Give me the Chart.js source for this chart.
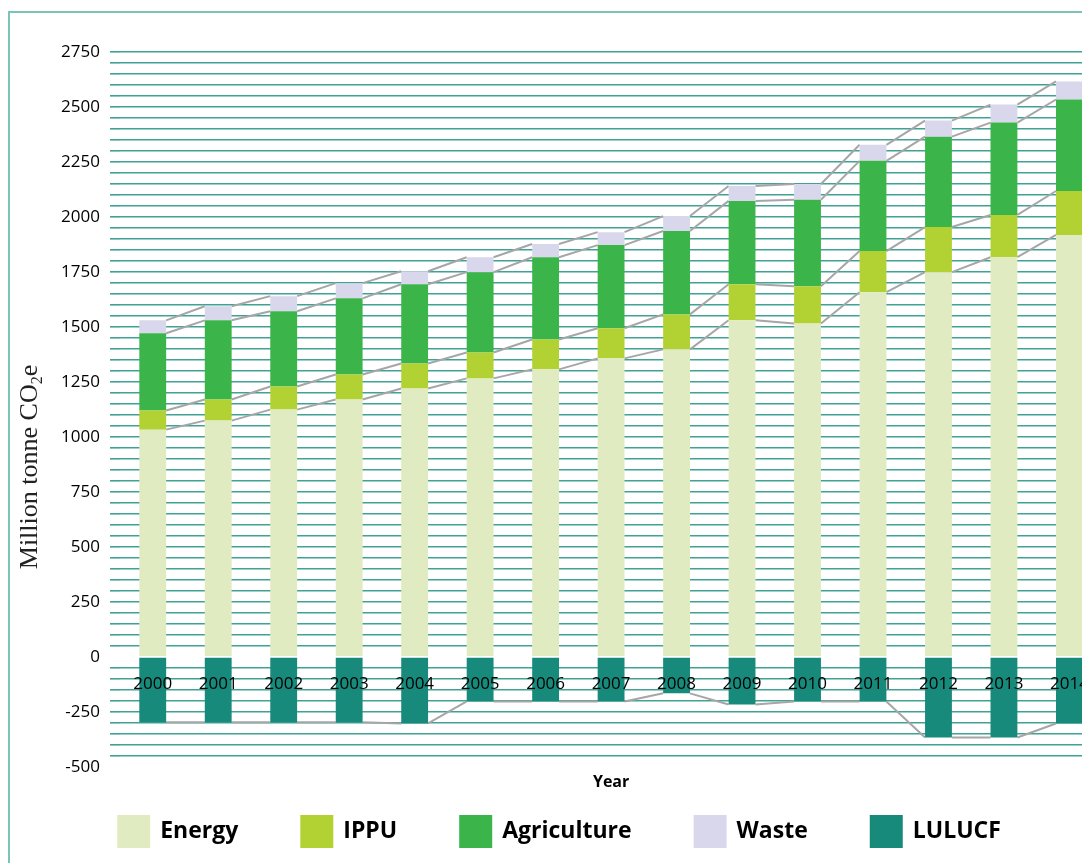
<!DOCTYPE html>
<html>
<head>
<meta charset="utf-8">
<script src="https://cdn.jsdelivr.net/npm/chart.js@4.4.0/dist/chart.umd.min.js"></script>
<style>
  html, body { margin: 0; padding: 0; background: #fff; overflow: hidden; }
  #wrap { position: absolute; left: 0; top: 0; width: 1106px; height: 863px; }
  #frame { position: absolute; left: 8px; top: 11px; width: 1200px; height: 900px;
           border-left: 2px solid #7cc4b8; border-top: 2px solid #7cc4b8; pointer-events: none; }
</style>
</head>
<body>
<div id="wrap">
  <canvas id="myChart" width="1106" height="863"></canvas>
</div>
<div id="frame"></div>
<script>
// datos (millones de toneladas CO2e)
const years = ['2000','2001','2002','2003','2004','2005','2006','2007','2008','2009','2010','2011','2012','2013','2014'];
const energy = [1033, 1074, 1124, 1170, 1220, 1266, 1307, 1357, 1398, 1530, 1516, 1658, 1749, 1817, 1918];
const ippu = [87, 96, 105, 114, 114, 118, 136, 137, 159, 164, 169, 187, 205, 192, 200];
const agriculture = [351, 360, 342, 346, 360, 365, 374, 378, 379, 379, 393, 410, 411, 420, 416];
const waste = [59, 64, 69, 69, 59, 68, 60, 59, 68, 68, 72, 73, 73, 82, 82];
const lulucf = [-297, -297, -297, -297, -303, -203, -203, -203, -166, -217, -203, -203, -367, -367, -303];

const seriesNames = ['Energy', 'IPPU', 'Agriculture', 'Waste', 'LULUCF'];
const seriesColors = ['#e0ebc1', '#b2d234', '#3bb44a', '#d8d7eb', '#178a7c'];
const yTicks = [-500, 2750, 50, 250]; // min, max, paso rejilla, paso etiquetas

const gridColor = '#3fa294';

// lineas grises que unen las barras (series lines)
const seriesLines = {
  id: 'seriesLines',
  beforeDatasetsDraw(chart) {
    const ctx = chart.ctx;
    ctx.save();
    ctx.strokeStyle = '#a6a6a6';
    ctx.lineWidth = 2;
    chart.data.datasets.forEach((ds, d) => {
      const bars = chart.getDatasetMeta(d).data;
      for (let i = 0; i < bars.length - 1; i++) {
        const a = bars[i], b = bars[i + 1];
        ctx.beginPath();
        ctx.moveTo(a.x + a.width / 2, a.y);
        ctx.lineTo(b.x - b.width / 2, b.y);
        ctx.stroke();
      }
    });
    ctx.restore();
  }
};

// titulo del eje Y con subindice
const yTitle = {
  id: 'yTitle',
  afterDraw(chart) {
    const ctx = chart.ctx;
    ctx.save();
    ctx.fillStyle = '#222';
    const big = '26px "Liberation Serif", "DejaVu Serif", serif';
    const small = '16px "Liberation Serif", "DejaVu Serif", serif';
    ctx.font = big;
    const w1 = ctx.measureText('Million tonne CO').width;
    const w3 = ctx.measureText('e').width;
    ctx.font = small;
    const w2 = ctx.measureText('2').width;
    const total = w1 + w2 + w3;
    ctx.translate(37, 467 + total / 2);
    ctx.rotate(-Math.PI / 2);
    ctx.textBaseline = 'alphabetic';
    ctx.textAlign = 'left';
    ctx.font = big;
    ctx.fillText('Million tonne CO', 0, 0);
    ctx.font = small;
    ctx.fillText('2', w1, 5);
    ctx.font = big;
    ctx.fillText('e', w1 + w2, 0);
    ctx.restore();
  }
};

// leyenda en una fila, cuadros 33x33
const legendRow = {
  id: 'legendRow',
  afterDraw(chart) {
    const ctx = chart.ctx;
    ctx.save();
    ctx.font = 'bold 23px "Open Sans", sans-serif';
    const box = 33, gapText = 10, gap = 62;
    const items = chart.data.datasets.map(ds => ({
      text: ds.label, color: ds.backgroundColor,
      w: box + gapText + ctx.measureText(ds.label).width
    }));
    const total = items.reduce((s, it) => s + it.w, 0) + gap * (items.length - 1);
    let x = (chart.width - total) / 2 + 6;
    const top = 815;
    ctx.textBaseline = 'middle';
    ctx.textAlign = 'left';
    items.forEach(it => {
      ctx.fillStyle = it.color;
      ctx.fillRect(x, top, box, box);
      ctx.fillStyle = '#000';
      ctx.fillText(it.text, x + box + gapText, top + box / 2);
      x += it.w + gap;
    });
    ctx.restore();
  }
};

const values = [energy, ippu, agriculture, waste, lulucf];
const datasets = values.map((v, i) => ({
  label: seriesNames[i],
  data: v,
  backgroundColor: seriesColors[i],
  borderWidth: 0,
  barPercentage: 0.41,
  categoryPercentage: 1,
  stack: 'total'
}));

const config = {
  type: 'bar',
  data: { labels: years, datasets: datasets },
  options: {
    responsive: false,
    animation: false,
    layout: { padding: { top: 52, left: 58, right: 0, bottom: 71 } },
    plugins: {
      legend: { display: false },
      tooltip: { enabled: false }
    },
    scales: {
      x: {
        stacked: true,
        grid: { display: false, drawTicks: false },
        border: { display: false },
        ticks: { display: false },
        title: {
          display: true, text: 'Year', color: '#000',
          font: { family: '"Open Sans", sans-serif', size: 16, weight: 'bold' },
          padding: { top: 6, bottom: 0 }
        }
      },
      xl: {
        type: 'category',
        labels: years,
        position: { y: 0 },
        offset: true,
        grid: { display: false, drawTicks: false },
        border: { display: false },
        ticks: {
          z: 1,
          color: '#000', padding: 17, maxRotation: 0, autoSkip: false,
          font: { family: '"Open Sans", sans-serif', size: 17 }
        }
      },
      y: {
        stacked: true,
        min: yTicks[0],
        max: yTicks[1],
        afterFit(scale) { scale.width = 62; },
        border: { display: false },
        grid: {
          color: c => (c.tick && (c.tick.value === 0 || c.tick.value === yTicks[0])) ? 'rgba(0,0,0,0)' : gridColor,
          lineWidth: 1.6,
          tickLength: 10
        },
        ticks: {
          stepSize: yTicks[2],
          autoSkip: false,
          padding: 10,
          color: '#000',
          font: { family: '"Open Sans", sans-serif', size: 17 },
          callback: v => (v % yTicks[3] === 0 ? v : '')
        }
      }
    }
  },
  plugins: [seriesLines, yTitle, legendRow]
};

const myChart = new Chart(document.getElementById('myChart'), config);
</script>
</body>
</html>
